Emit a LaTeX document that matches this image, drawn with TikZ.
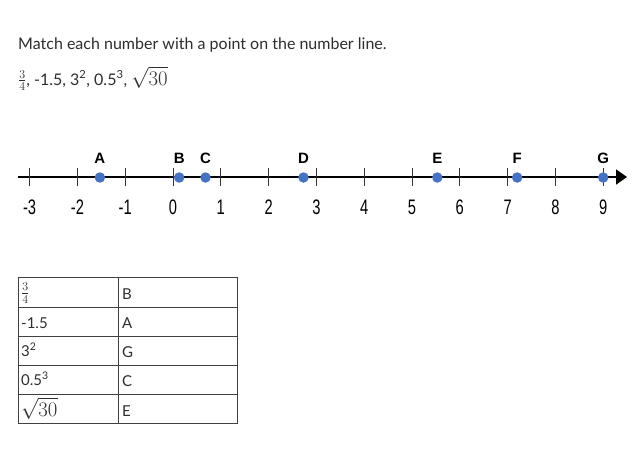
\documentclass[tikz,border=0pt]{standalone}
\usepackage{fontspec}
\setmainfont{Lato}
\newfontfamily\numfont[FakeStretch=0.7]{Liberation Sans}
\newfontfamily\labfont{Liberation Sans}
\usetikzlibrary{arrows.meta}
\definecolor{dotblue}{HTML}{4472C4}
\definecolor{txt}{HTML}{2E2E2E}
\newcommand\bigmath[1]{{\fontsize{20}{20}\selectfont$#1$}}
\newcommand\fracmath[1]{{\fontsize{17}{17}\selectfont$#1$}}
\tikzset{
  axis/.style={line width=1.8pt,-{Triangle[length=11pt,width=15pt]}},
  tick/.style={line width=0.9pt,black!80},
  dot/.style={circle,fill=dotblue,inner sep=0pt,minimum size=10.5pt},
  ptlab/.style={font=\labfont\bfseries\fontsize{15}{15}\selectfont,anchor=base,inner sep=0pt},
  numlab/.style={font=\numfont\fontsize{21}{21}\selectfont,anchor=base,inner sep=0pt},
  title/.style={font=\fontsize{16}{18}\selectfont,text=txt,anchor=base west,inner sep=0pt},
  cell/.style={font=\fontsize{15}{16}\selectfont,text=txt,anchor=base west,inner sep=0pt},
  grid/.style={line width=0.8pt,black!75}
}
\begin{document}
\begin{tikzpicture}[x=1pt,y=-1pt]
\useasboundingbox[fill=white] (0,0) rectangle (642,464);
% texts
\node[title] (t1) at (18,49) {Match each number with a point on the number line.};
\node[title] (t2) at (18,85) {\fracmath{\frac{3}{4}}, -1.5, 3\textsuperscript{2}, 0.5\textsuperscript{3}, \bigmath{\sqrt{30}}};
% number line
\coordinate (ls) at (18,177);
\coordinate (le) at (627,177);
\draw[axis] (ls) -- (le);
\foreach \v [count=\i] in {-3,...,9}{
  \draw[tick] ({173+47.8*\v},168) -- ({173+47.8*\v},186);
  \node[numlab] (n\i) at ({173+47.8*\v},214) {\v};
}
\foreach \p/\v in {A/-1.53,B/0.13,C/0.68,D/2.73,E/5.53,F/7.2,G/9}{
  \node[dot] (p\p) at ({173+47.8*\v},177.5) {};
  \node[ptlab] (l\p) at ({173+47.8*\v},163) {\p};
}
% table
\draw[grid] (18.5,277.5) rectangle (237.5,423.5);
\draw[grid] (118.5,277.5) -- (118.5,423.5);
\foreach \y in {307,336.5,365.5,394.5}{
  \draw[grid] (18.5,\y) -- (237.5,\y);
}
\node[cell] (c1) at (21,297.5) {\fracmath{\frac{3}{4}}};
\node[cell] (c2) at (21,328) {-1.5};
\node[cell] (c3) at (21,356) {3\textsuperscript{2}};
\node[cell] (c4) at (21,385) {0.5\textsuperscript{3}};
\node[cell] (c5) at (21,416) {\bigmath{\sqrt{30}}};
\node[cell] (d1) at (122,299) {B};
\node[cell] (d2) at (122,328) {A};
\node[cell] (d3) at (122,357) {G};
\node[cell] (d4) at (122,386) {C};
\node[cell] (d5) at (122,416) {E};
\end{tikzpicture}
\end{document}
